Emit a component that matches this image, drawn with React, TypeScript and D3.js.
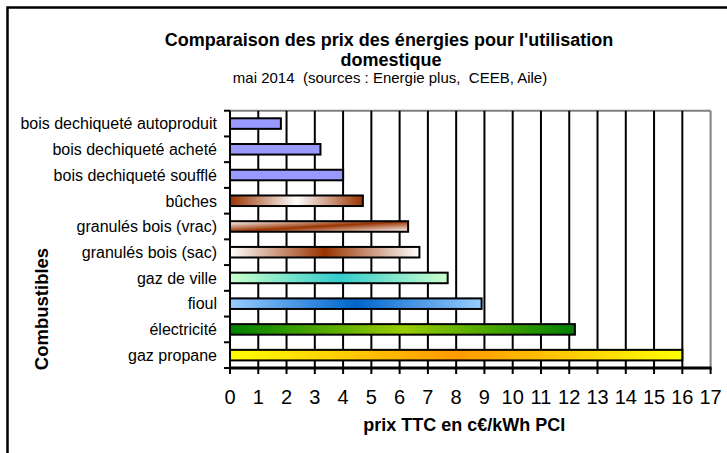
import React from 'react';
import * as d3 from 'd3';

const categories = [
  'bois dechiqueté autoproduit',
  'bois dechiqueté acheté',
  'bois dechiqueté soufflé',
  'bûches',
  'granulés bois (vrac)',
  'granulés bois (sac)',
  'gaz de ville',
  'fioul',
  'électricité',
  'gaz propane',
];
const prices = [1.8, 3.2, 4.0, 4.7, 6.3, 6.7, 7.7, 8.9, 12.2, 16.0];
const xTickValues = [0, 1, 2, 3, 4, 5, 6, 7, 8, 9, 10, 11, 12, 13, 14, 15, 16, 17];
const titleLines = ["Comparaison des prix des énergies pour l'utilisation", 'domestique'];
const subtitle = 'mai 2014  (sources : Energie plus,  CEEB, Aile)';
const xTitle = 'prix TTC en c€/kWh PCI';
const yTitle = 'Combustibles';

// fill styles per bar
const barFills: { dir: 'solid' | 'h' | 'diag'; stops: string[] }[] = [
  { dir: 'solid', stops: ['#9999FF'] },
  { dir: 'solid', stops: ['#9999FF'] },
  { dir: 'solid', stops: ['#9999FF'] },
  { dir: 'h', stops: ['#993300', '#FFFFFF', '#993300'] },
  { dir: 'diag', stops: ['#FFFFFF', '#993300', '#FFFFFF'] },
  { dir: 'h', stops: ['#FFFFFF', '#993300', '#FFFFFF'] },
  { dir: 'h', stops: ['#CCFFCC', '#33CCCC', '#CCFFCC'] },
  { dir: 'h', stops: ['#99CCFF', '#0066CC', '#99CCFF'] },
  { dir: 'h', stops: ['#008000', '#99CC00', '#008000'] },
  { dir: 'h', stops: ['#FFFF00', '#FF9900', '#FFFF00'] },
];

const W = 727;
const H = 453;
const plot = { left: 230, right: 710.6, top: 110.7, bottom: 368 };
const FONT = "'Liberation Sans', Arial, sans-serif";

export default function App() {
  const x = d3.scaleLinear().domain([0, 17]).range([plot.left, plot.right]);
  const y = d3
    .scaleBand<string>()
    .domain(categories)
    .range([plot.top, plot.bottom])
    .paddingInner(0.59)
    .paddingOuter(0.295);
  const step = y.step();
  const boundaries = d3.range(categories.length + 1).map((i) => plot.top + i * step);

  return (
    <svg
      width={W}
      height={H}
      style={{ position: 'absolute', left: 0, top: 0, background: '#fff' }}
      fontFamily={FONT}
    >
      <defs>
        {barFills.map((f, i) =>
          f.dir === 'solid' ? null : (
            <linearGradient key={i} id={`g${i}`} x1="0" y1="0" x2={1} y2={f.dir === 'diag' ? 1 : 0}>
              {f.stops.map((c, j) => (
                <stop key={j} offset={j / (f.stops.length - 1)} stopColor={c} />
              ))}
            </linearGradient>
          )
        )}
      </defs>
      <rect x={0} y={0} width={W} height={H} fill="#fff" />
      <rect x={7.5} y={7.5} width={W + 40} height={H + 40} fill="none" stroke="#000" strokeWidth={2.5} />

      <text x={389} y={46} textAnchor="middle" fontWeight="bold" fontSize={18}>
        {titleLines[0]}
      </text>
      <text x={391} y={66} textAnchor="middle" fontWeight="bold" fontSize={18}>
        {titleLines[1]}
      </text>
      <text x={390} y={83} textAnchor="middle" fontSize={15} style={{ whiteSpace: 'pre' }}>
        {subtitle}
      </text>

      <line x1={plot.left} x2={plot.right} y1={plot.top} y2={plot.top} stroke="#808080" strokeWidth={2} />
      <line x1={plot.right} x2={plot.right} y1={plot.top} y2={plot.bottom} stroke="#808080" strokeWidth={2} />

      {xTickValues
        .filter((v) => v > 0 && v < 17)
        .map((v) => (
          <line key={v} x1={x(v)} x2={x(v)} y1={plot.top} y2={plot.bottom} stroke="#000" strokeWidth={2} />
        ))}

      {categories.map((c, i) => {
        const f = barFills[i];
        return (
          <rect
            key={c}
            x={x(0)}
            y={y(c)!}
            width={x(prices[i]) - x(0)}
            height={y.bandwidth()}
            fill={f.dir === 'solid' ? f.stops[0] : `url(#g${i})`}
            stroke="#000"
            strokeWidth={2}
          />
        );
      })}

      <line x1={plot.left} x2={plot.left} y1={plot.top} y2={plot.bottom} stroke="#000" strokeWidth={2} />
      {boundaries.map((b, i) => (
        <line key={i} x1={plot.left - 6} x2={plot.left} y1={b} y2={b} stroke="#000" strokeWidth={2} />
      ))}
      {categories.map((c) => (
        <text key={c} x={217} y={y(c)! + y.bandwidth() / 2} dy="0.36em" textAnchor="end" fontSize={16}>
          {c}
        </text>
      ))}

      <line x1={plot.left - 1} x2={plot.right + 1} y1={plot.bottom} y2={plot.bottom} stroke="#000" strokeWidth={3} />
      {xTickValues.map((v) => (
        <g key={v}>
          <line x1={x(v)} x2={x(v)} y1={plot.bottom} y2={plot.bottom + 6} stroke="#000" strokeWidth={2} />
          <text x={x(v)} y={404} textAnchor="middle" fontSize={20}>
            {v}
          </text>
        </g>
      ))}

      <text x={(plot.left + plot.right) / 2 - 6} y={431} textAnchor="middle" fontWeight="bold" fontSize={18}>
        {xTitle}
      </text>
      <text transform={`translate(48,309) rotate(-90)`} textAnchor="middle" fontWeight="bold" fontSize={18.5}>
        {yTitle}
      </text>
    </svg>
  );
}
